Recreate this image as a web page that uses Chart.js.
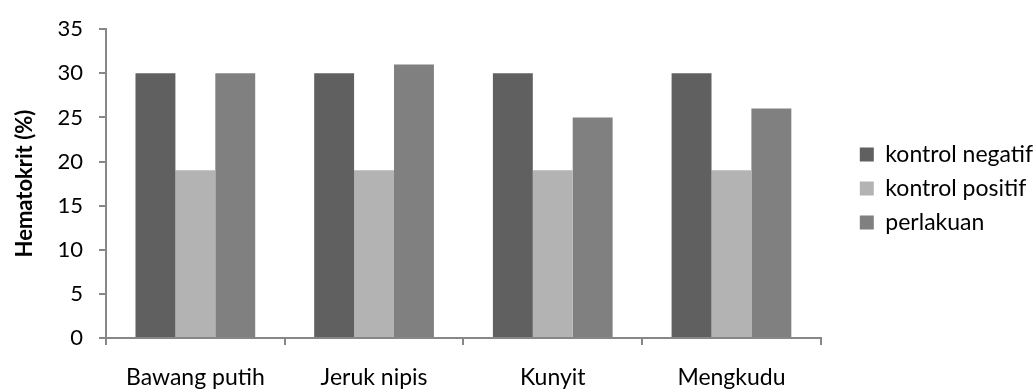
<!DOCTYPE html>
<html lang="id">
<head>
<meta charset="UTF-8">
<title>Hematokrit</title>
<script src="https://cdn.jsdelivr.net/npm/chart.js"></script>
<style>
  html, body { margin: 0; padding: 0; background: #ffffff; }
  #wrap { width: 1036px; height: 392px; }
</style>
</head>
<body>
<div id="wrap"><canvas id="grafik" width="1036" height="392"></canvas></div>
<script>
// data
const kategori = ['Bawang putih', 'Jeruk nipis', 'Kunyit', 'Mengkudu'];
const kontrolNegatif = [30, 30, 30, 30];
const kontrolPositif = [19, 19, 19, 19];
const perlakuan = [30, 31, 25, 26];
const yTicks = [0, 5, 10, 15, 20, 25, 30, 35];

const fontUtama = 'Lato, "Open Sans", sans-serif';
const warnaSumbu = '#878787';

// geser legenda: sedikit ke kanan dan ke atas
const geserLegenda = {
  id: 'geserLegenda',
  afterLayout(chart) {
    const lg = chart.legend;
    if (!lg) return;
    lg.left += 28;
    lg.right += 28;
    lg.top -= 20;
    lg.bottom -= 20;
  }
};

const ctx = document.getElementById('grafik').getContext('2d');
new Chart(ctx, {
  type: 'bar',
  data: {
    labels: kategori,
    datasets: [
      { label: 'kontrol negatif', data: kontrolNegatif, backgroundColor: '#606060' },
      { label: 'kontrol positif', data: kontrolPositif, backgroundColor: '#b3b3b3' },
      { label: 'perlakuan', data: perlakuan, backgroundColor: '#808080' }
    ]
  },
  plugins: [geserLegenda],
  options: {
    responsive: false,
    animation: false,
    devicePixelRatio: 1,
    layout: { padding: { top: 25, right: 21, left: 0, bottom: 0 } },
    datasets: {
      bar: { categoryPercentage: 0.67, barPercentage: 1.0 }
    },
    plugins: {
      tooltip: { enabled: false },
      legend: {
        position: 'right',
        align: 'center',
        labels: {
          boxWidth: 14,
          boxHeight: 14,
          padding: 11,
          color: '#000',
          font: { family: fontUtama, size: 23 }
        }
      }
    },
    scales: {
      x: {
        offset: true,
        grid: {
          offset: true,
          drawOnChartArea: false,
          color: warnaSumbu,
          lineWidth: 2,
          tickLength: 7,
          tickColor: warnaSumbu
        },
        border: { color: warnaSumbu, width: 2 },
        ticks: {
          color: '#000',
          padding: 19,
          font: { family: fontUtama, size: 23 }
        },
        afterFit: s => { s.height = 54; }
      },
      y: {
        min: 0,
        max: 35,
        afterBuildTicks: s => { s.ticks = yTicks.map(v => ({ value: v })); },
        grid: {
          drawOnChartArea: false,
          color: warnaSumbu,
          lineWidth: 2,
          tickLength: 7,
          tickColor: warnaSumbu
        },
        border: { color: warnaSumbu, width: 2 },
        ticks: {
          color: '#000',
          padding: 16,
          font: { family: fontUtama, size: 22 }
        },
        title: {
          display: true,
          text: 'Hematokrit (%)',
          color: '#000',
          padding: { top: 12, bottom: 0 },
          font: { family: fontUtama, size: 22, weight: 'bold' }
        },
        afterFit: s => { s.width = 106; }
      }
    }
  }
});
</script>
</body>
</html>
